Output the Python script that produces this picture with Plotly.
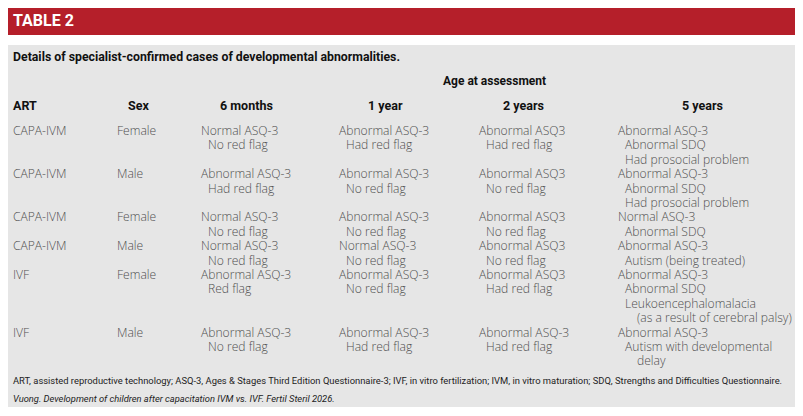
import plotly.graph_objects as go

# Table text
title = "TABLE 2"
caption = "Details of specialist-confirmed cases of developmental abnormalities."
group_header = "Age at assessment"
col_headers = ["ART", "Sex", "6 months", "1 year", "2 years", "5 years"]

art = ["CAPA-IVM", "CAPA-IVM", "CAPA-IVM", "CAPA-IVM", "IVF", "IVF"]
sex = ["Female", "Male", "Female", "Male", "Female", "Male"]
months_6 = [
    ["Normal ASQ-3", "No red flag"],
    ["Abnormal ASQ-3", "Had red flag"],
    ["Normal ASQ-3", "No red flag"],
    ["Normal ASQ-3", "No red flag"],
    ["Abnormal ASQ-3", "Red flag"],
    ["Abnormal ASQ-3", "No red flag"],
]
year_1 = [
    ["Abnormal ASQ-3", "Had red flag"],
    ["Abnormal ASQ-3", "No red flag"],
    ["Abnormal ASQ-3", "No red flag"],
    ["Normal ASQ-3", "No red flag"],
    ["Abnormal ASQ-3", "No red flag"],
    ["Abnormal ASQ-3", "Had red flag"],
]
years_2 = [
    ["Abnormal ASQ3", "Had red flag"],
    ["Abnormal ASQ3", "No red flag"],
    ["Abnormal ASQ3", "No red flag"],
    ["Abnormal ASQ3", "No red flag"],
    ["Abnormal ASQ3", "Had red flag"],
    ["Abnormal ASQ-3", "Had red flag"],
]
# tuples = one item that wraps onto a second line
years_5 = [
    ["Abnormal ASQ-3", "Abnormal SDQ", "Had prosocial problem"],
    ["Abnormal ASQ-3", "Abnormal SDQ", "Had prosocial problem"],
    ["Normal ASQ-3", "Abnormal SDQ"],
    ["Abnormal ASQ-3", "Autism (being treated)"],
    ["Abnormal ASQ-3", "Abnormal SDQ", ("Leukoencephalomalacia", "(as a result of cerebral palsy)")],
    ["Abnormal ASQ-3", ("Autism with developmental", "delay")],
]
footnote = ("ART, assisted reproductive technology; ASQ-3, Ages & Stages Third Edition Questionnaire-3; "
            "IVF, in vitro fertilization; IVM, in vitro maturation; SDQ, Strengths and Difficulties Questionnaire.")
source = "Vuong. Development of children after capacitation IVM vs. IVF. Fertil Steril 2026."

# Styling
red = "#B51F2A"
panel = "#E6E6E6"
body_color = "#4F4F4F"
body_font = "Open Sans, sans-serif"
bold_font = "Roboto, sans-serif"
W, H = 803, 416
PAD = 8  # page body margin

fig = go.Figure()

# banner + panel
fig.add_shape(type="rect", x0=6, x1=797, y0=6, y1=35, fillcolor=red, line=dict(width=0), layer="below")
fig.add_shape(type="rect", x0=6, x1=797, y0=45, y1=407, fillcolor=panel, line=dict(width=0), layer="below")


def txt(x, y, s, size=12.1, color=body_color, family=body_font, anchor="left", weight=None, italic=False):
    if italic:
        s = "<i>" + s + "</i>"
    f = dict(size=size, color=color, family=family)
    if weight:
        f["weight"] = weight
    fig.add_annotation(x=x, y=y, text=s, showarrow=False, xanchor=anchor, yanchor="middle",
                       font=f, borderpad=0)


txt(12, 20, title, size=16, color="white", family=bold_font, weight=700)
txt(12, 57, caption, size=12.3, color="#111111", family=bold_font, weight=700)
txt(494, 81, group_header, size=12, color="#111111", family=bold_font, anchor="center", weight=700)

# column header positions
head_x = [12, 138, 246, 385, 523, 702]
head_anchor = ["left", "center", "center", "center", "center", "center"]
for hx, ha, h in zip(head_x, head_anchor, col_headers):
    txt(hx, 105, h, size=12.5, color="#111111", family=bold_font, anchor=ha, weight=700)

# body
col_left = [12, 116, 200, 338, 478, 617]
line_h = 14.4
indent, wrap_indent = 7, 19
y = 130.5
for i in range(len(art)):
    cells = [[art[i]], [sex[i]], months_6[i], year_1[i], years_2[i], years_5[i]]
    n_lines = 0
    for cx, cell in zip(col_left, cells):
        k = 0
        for j, item in enumerate(cell):
            parts = item if isinstance(item, tuple) else (item,)
            for p, part in enumerate(parts):
                off = 0 if j == 0 else (indent if p == 0 else wrap_indent)
                txt(cx + off, y + k * line_h, part, weight=300)
                k += 1
        n_lines = max(n_lines, k)
    y += n_lines * line_h

txt(12, 380, footnote, size=9.4, color="#222222", family=bold_font)
txt(12, 398, source, size=9.35, color="#222222", family=bold_font, italic=True)

fig.update_layout(
    width=W - PAD, height=H - PAD,
    margin=dict(l=0, r=0, t=0, b=0),
    paper_bgcolor="white", plot_bgcolor="white",
    showlegend=False,
    xaxis=dict(range=[PAD, W], visible=False, fixedrange=True),
    yaxis=dict(range=[H, PAD], visible=False, fixedrange=True),
)

fig.write_html("out.html")
